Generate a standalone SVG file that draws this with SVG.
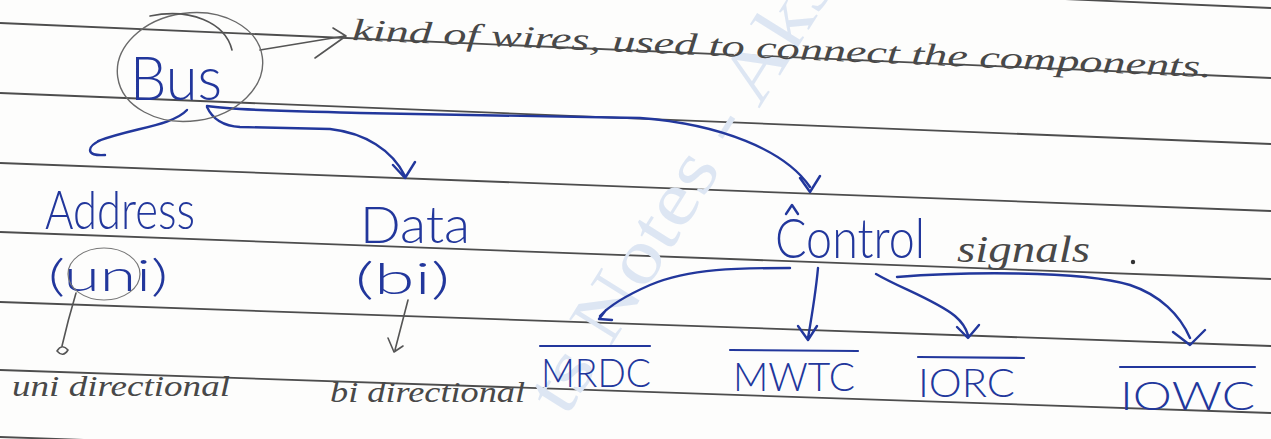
<svg xmlns="http://www.w3.org/2000/svg" width="1271" height="439" viewBox="0 0 1271 439">
  <defs>
    <style>
      .rule { stroke: #4d4d4d; stroke-width: 1.8; }
      .ink { fill: #22379c; font-family: "Lato", "Liberation Sans", sans-serif; font-weight: 300; }
      .pencil { fill: #484848; font-family: "Liberation Serif", serif; font-style: italic; }
      .pen-line { fill: none; stroke: #22379c; stroke-width: 2.4; stroke-linecap: round; stroke-linejoin: round; }
      .pencil-line { fill: none; stroke: #555; stroke-width: 1.6; stroke-linecap: round; stroke-linejoin: round; }
      .bar { stroke: #22379c; stroke-width: 2.2; stroke-linecap: round; }
      .mark { fill: #dde6f3; font-family: "Liberation Serif", serif; }
    </style>
  </defs>

  <!-- paper -->
  <rect width="1271" height="439" fill="#fdfdfc"/>

  <!-- ruled lines (page is photographed at a slight tilt) -->
  <g id="ruling">
    <line class="rule" x1="0" y1="-47" x2="1271" y2="8"/>
    <line class="rule" x1="0" y1="23" x2="1271" y2="78"/>
    <line class="rule" x1="0" y1="93" x2="1271" y2="144"/>
    <line class="rule" x1="0" y1="163" x2="1271" y2="211"/>
    <line class="rule" x1="0" y1="232" x2="1271" y2="279"/>
    <line class="rule" x1="0" y1="302" x2="1271" y2="346"/>
    <line class="rule" x1="0" y1="370" x2="1271" y2="413"/>
    <line class="rule" x1="0" y1="437" x2="1271" y2="481"/>
  </g>

  <!-- faint page watermark -->
  <text class="mark" x="0" y="0" font-size="76" textLength="510" lengthAdjust="spacingAndGlyphs" transform="translate(566,418) rotate(-58)">ts Notes - Aks</text>

  <!-- connectors -->
  <g id="connectors">
    <!-- Bus → description -->
    <path class="pencil-line" d="M260,50 L345,36 M333,28 L346,36 L315,58"/>
    <!-- Bus → Address -->
    <path class="pen-line" d="M187,110 C172,126 132,128 98,141 M101,140 Q90,145 90,150 Q90,156 105,155"/>
    <!-- Bus → Data -->
    <path class="pen-line" d="M207,107 C212,118 222,126 240,127 L330,129 C365,133 392,150 405,176 M393,165 L405,178 L415,162"/>
    <!-- Bus → Control signals -->
    <path class="pen-line" d="M207,106 C240,111 300,111 360,113 L640,118 C720,124 785,150 810,187 M800,178 L810,192 L820,176"/>
    <!-- uni → unidirectional -->
    <path class="pencil-line" d="M76,293 Q68,320 62,346 M57,351 Q62,343 68,350 Q63,358 57,351"/>
    <!-- bi → bidirectional -->
    <path class="pencil-line" d="M408,300 L395,350 M388,338 L394,352 L403,346"/>
    <!-- Control signals → MRDC -->
    <path class="pen-line" d="M790,268 C740,268 690,268 650,285 C625,296 610,305 600,316 M606,310 L599,319 L612,320"/>
    <!-- Control signals → MWTC -->
    <path class="pen-line" d="M818,268 C816,290 812,315 808,338 M798,326 L808,340 L817,326"/>
    <!-- Control signals → IORC -->
    <path class="pen-line" d="M876,274 C900,288 935,300 955,316 C962,322 966,328 968,335 M957,327 L968,338 L979,325"/>
    <!-- Control signals → IOWC -->
    <path class="pen-line" d="M897,277 C960,272 1080,270 1130,285 C1160,295 1180,315 1190,338 M1173,332 L1190,345 L1205,330"/>
  </g>

  <!-- Bus, circled -->
  <g id="bus">
    <ellipse cx="190" cy="67" rx="73" ry="54" transform="rotate(-8 190 67)" fill="none" stroke="#6a6a6a" stroke-width="1.4"/>
    <path class="pencil-line" d="M150,16 C190,8 225,22 232,50" stroke="#7a7a7a" stroke-width="1.2"/>
    <text class="ink" x="130" y="100" font-size="62" textLength="92" lengthAdjust="spacingAndGlyphs">Bus</text>
  </g>

  <g id="bus-note">
    <text class="pencil" x="0" y="0" font-size="31" textLength="860" lengthAdjust="spacingAndGlyphs" transform="translate(352,40) rotate(2.48)">kind of wires, used to connect the components.</text>
  </g>

  <g id="address">
    <text class="ink" x="45" y="229" font-size="54" textLength="150" lengthAdjust="spacingAndGlyphs">Address</text>
    <text class="ink" x="48" y="291" font-size="44" textLength="120" lengthAdjust="spacingAndGlyphs">(uni)</text>
    <ellipse cx="104" cy="274" rx="36" ry="26" fill="none" stroke="#777" stroke-width="1.2"/>
  </g>

  <g id="data">
    <text class="ink" x="360" y="243" font-size="52" textLength="110" lengthAdjust="spacingAndGlyphs">Data</text>
    <text class="ink" x="355" y="294" font-size="44" textLength="95" lengthAdjust="spacingAndGlyphs">(bi)</text>
  </g>

  <g id="control-signals">
    <text class="ink" x="775" y="258" font-size="56" textLength="150" lengthAdjust="spacingAndGlyphs">Control</text>
    <path class="pen-line" d="M786,214 L792,205 L798,214" stroke-width="1.8"/>
    <text class="pencil" x="957" y="262" font-size="38" textLength="133" lengthAdjust="spacingAndGlyphs">signals</text>
    <circle cx="1133" cy="262" r="2.2" fill="#333"/>
  </g>

  <g id="unidirectional">
    <text class="pencil" x="12" y="396" font-size="30" textLength="218" lengthAdjust="spacingAndGlyphs">uni directional</text>
  </g>

  <g id="bidirectional">
    <text class="pencil" x="330" y="402" font-size="30" textLength="195" lengthAdjust="spacingAndGlyphs">bi directional</text>
  </g>

  <g id="mrdc">
    <line class="bar" x1="540" y1="346" x2="650" y2="346"/>
    <text class="ink" x="541" y="387" font-size="40" textLength="110" lengthAdjust="spacingAndGlyphs">MRDC</text>
  </g>

  <g id="mwtc">
    <line class="bar" x1="730" y1="350" x2="858" y2="351"/>
    <text class="ink" x="733" y="391" font-size="40" textLength="122" lengthAdjust="spacingAndGlyphs">MWTC</text>
  </g>

  <g id="iorc">
    <line class="bar" x1="918" y1="357" x2="1024" y2="358"/>
    <text class="ink" x="918" y="397" font-size="40" textLength="97" lengthAdjust="spacingAndGlyphs">IORC</text>
  </g>

  <g id="iowc">
    <line class="bar" x1="1120" y1="367" x2="1255" y2="367"/>
    <text class="ink" x="1120" y="410" font-size="40" textLength="135" lengthAdjust="spacingAndGlyphs">IOWC</text>
  </g>
</svg>
